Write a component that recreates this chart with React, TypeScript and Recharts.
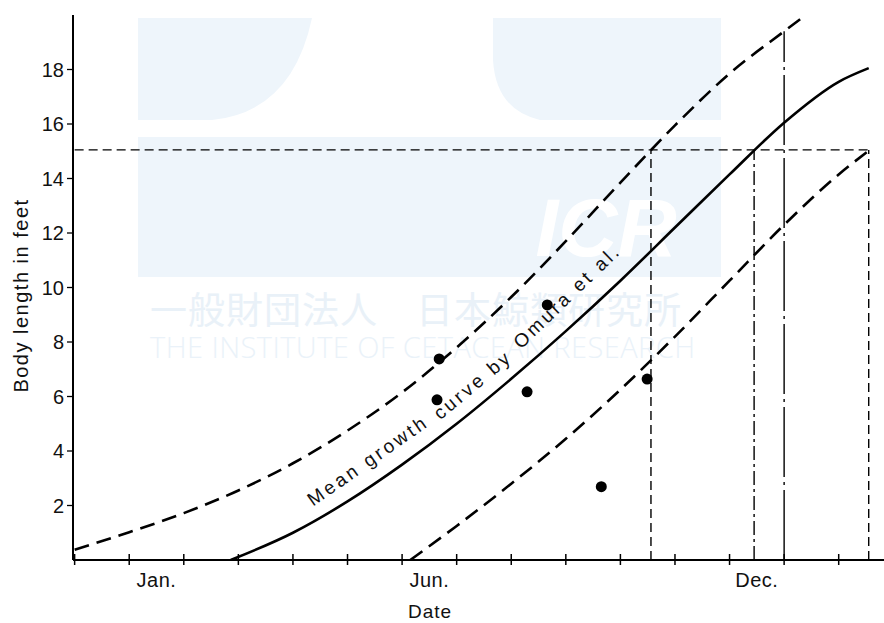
import React from "react";
import {
  ComposedChart,
  Line,
  Scatter,
  XAxis,
  YAxis,
  ReferenceLine,
  ReferenceDot,
} from "recharts";

// x = months counted from 1 Dec of the year before (1 = 1 Jan, 6 = 1 Jun, 12 = 1 Dec)
const monthBounds = [0, 1, 2, 3, 4, 5, 6, 7, 8, 9, 10, 11, 12, 13, 14];
const monthLabels = ["Jan.", "Jun.", "Dec."];
const monthLabelAt = [1.5, 6.5, 12.5];
const lengthTicks = [2, 4, 6, 8, 10, 12, 14, 16, 18];

// mean growth curve (Omura et al.)
const meanMonth = [2.86, 4, 5, 6, 7, 8, 9, 10, 11, 12, 13, 14, 14.55];
const meanLength = [0, 1.0, 2.15, 3.5, 5.0, 6.65, 8.4, 10.25, 12.2, 14.15, 16.05, 17.55, 18.05];

// upper / lower limits
const upperMonth = [0, 1, 2, 3, 4, 5, 6, 7, 8, 9, 10, 11, 12, 13, 13.4];
const upperLength = [0.38, 1.02, 1.72, 2.55, 3.55, 4.75, 6.15, 7.8, 9.65, 11.7, 13.85, 15.95, 17.85, 19.4, 20.0];
const lowerMonth = [6.15, 7, 8, 9, 10, 11, 12, 13, 14, 14.55];
const lowerLength = [0, 1.25, 2.8, 4.45, 6.25, 8.2, 10.25, 12.3, 14.15, 15.02];

// observed specimens
const obsMonth = [6.68, 6.64, 8.29, 8.66, 9.65, 10.49];
const obsLength = [7.38, 5.88, 6.17, 9.36, 2.69, 6.64];

// 15 ft guide and the drop lines
const guideLength = 15.05;
const guideEnd = 14.55;
const dropMonth = [10.56, 12.45, 13.0, 14.55];
const dropTop = [15.05, 15.05, 19.4, 15.05];
const dropDash = ["9 5", "14 4 3 4", "70 5 3 5", "9 5"];

// curve caption, split so it bends with the curve
const captionText = ["Mean growth", "curve by", "Omura et al."];
const captionMonth = [4.37, 6.7, 8.18];
const captionLength = [1.95, 5.12, 7.72];
const captionAngle = [-35, -40, -44];

const pts = (xs: number[], ys: number[]) => xs.map((m, i) => ({ m, v: ys[i] }));
const mean = pts(meanMonth, meanLength);
const upper = pts(upperMonth, upperLength);
const lower = pts(lowerMonth, lowerLength);
const observed = pts(obsMonth, obsLength);

const FONT = "'Liberation Sans', Arial, sans-serif";
const INK = "#111";

function MonthTick(props: any) {
  const { x, y, payload } = props;
  const i = monthLabelAt.indexOf(payload.value);
  if (i >= 0) {
    return (
      <text x={x} y={y + 27} textAnchor="middle" fontSize={20} fill={INK} letterSpacing={0.5}>
        {monthLabels[i]}
      </text>
    );
  }
  return <line x1={x} x2={x} y1={y - 6} y2={y + 5} stroke="#000" strokeWidth={1.5} />;
}

function DateTitle(props: any) {
  const { viewBox } = props;
  return (
    <text x={viewBox.x + 357} y={viewBox.y + 58} textAnchor="middle" fontSize={19} fill={INK} letterSpacing={1}>
      Date
    </text>
  );
}

function LengthTitle(props: any) {
  const { viewBox } = props;
  const cx = viewBox.x + 28;
  const cy = viewBox.y + viewBox.height / 2 + 8;
  return (
    <text
      x={cx}
      y={cy}
      transform={`rotate(-90 ${cx} ${cy})`}
      textAnchor="middle"
      fontSize={20}
      fill={INK}
      letterSpacing={1.5}
    >
      Body length in feet
    </text>
  );
}

function Watermark() {
  const blue = "#eef5fb";
  return (
    <svg width={884} height={623} style={{ position: "absolute", left: 0, top: 0 }}>
      <path d="M138 18 H312 Q292 112 212 120 H138 Z" fill={blue} />
      <path d="M493 18 H721 V120 H540 Q496 110 493 60 Z" fill={blue} />
      <rect x={138} y={137} width={583} height={140} fill={blue} />
      <text x={606} y={256} textAnchor="middle" fontSize={82} fontWeight="bold" fontStyle="italic" fill="#fff" fontFamily={FONT}>
        ICR
      </text>
      <text x={150} y={324} fontSize={37} fill="#e9f1f8" fontFamily="'Noto Sans CJK JP', sans-serif" letterSpacing={1}>
        一般財団法人　日本鯨類研究所
      </text>
      <text x={150} y={358} fontSize={29} fill="#eaf2f9" fontFamily="'Open Sans', sans-serif" fontWeight={300} textLength={545}>
        THE INSTITUTE OF CETACEAN RESEARCH
      </text>
    </svg>
  );
}

export default function App() {
  return (
    <div style={{ position: "relative", width: 884, height: 623, fontFamily: FONT, background: "#fff" }}>
      <style>{"body{margin:0}"}</style>
      <Watermark />
      <div style={{ position: "absolute", left: 0, top: 0 }}>
        <ComposedChart width={884} height={623} margin={{ top: 15, right: 0, bottom: 0, left: 0 }}>
          <XAxis
            type="number"
            dataKey="m"
            domain={[-0.03, 14.83]}
            allowDataOverflow
            ticks={[...monthBounds, ...monthLabelAt]}
            interval={0}
            tick={<MonthTick />}
            tickLine={false}
            tickSize={0}
            tickMargin={0}
            height={63}
            axisLine={{ stroke: "#000", strokeWidth: 2 }}
            label={<DateTitle />}
          />
          <YAxis
            type="number"
            dataKey="v"
            domain={[0, 20]}
            allowDataOverflow
            ticks={lengthTicks}
            interval={0}
            width={73}
            tickSize={6}
            tickMargin={3}
            tickLine={{ stroke: "#000", strokeWidth: 1.3 }}
            axisLine={{ stroke: "#000", strokeWidth: 2 }}
            tick={{ fontSize: 20, fill: INK }}
            label={<LengthTitle />}
          />

          <ReferenceLine
            segment={[{ x: 0, y: guideLength }, { x: guideEnd, y: guideLength }]}
            stroke="#000"
            strokeWidth={1.3}
            strokeDasharray="9 5"
            ifOverflow="visible"
          />
          {dropMonth.map((m, i) => (
            <ReferenceLine
              key={`drop-${i}`}
              segment={[{ x: m, y: 0 }, { x: m, y: dropTop[i] }]}
              stroke="#000"
              strokeWidth={1.4}
              strokeDasharray={dropDash[i]}
              ifOverflow="visible"
            />
          ))}

          <Line data={upper} dataKey="v" type="monotone" stroke="#000" strokeWidth={2.6} strokeDasharray="15 8" dot={false} isAnimationActive={false} />
          <Line data={mean} dataKey="v" type="monotone" stroke="#000" strokeWidth={2.6} dot={false} isAnimationActive={false} />
          <Line data={lower} dataKey="v" type="monotone" stroke="#000" strokeWidth={2.6} strokeDasharray="15 8" dot={false} isAnimationActive={false} />

          <Scatter
            data={observed}
            isAnimationActive={false}
            shape={(p: any) => <circle cx={p.cx} cy={p.cy} r={5.5} fill="#000" />}
          />

          {captionText.map((t, i) => (
            <ReferenceDot
              key={`cap-${i}`}
              x={captionMonth[i]}
              y={captionLength[i]}
              r={0}
              ifOverflow="visible"
              shape={(p: any) => (
                <text
                  x={p.cx}
                  y={p.cy}
                  transform={`rotate(${captionAngle[i]} ${p.cx} ${p.cy})`}
                  fontSize={19}
                  letterSpacing={3}
                  fill={INK}
                >
                  {t}
                </text>
              )}
            />
          ))}
        </ComposedChart>
      </div>
    </div>
  );
}
